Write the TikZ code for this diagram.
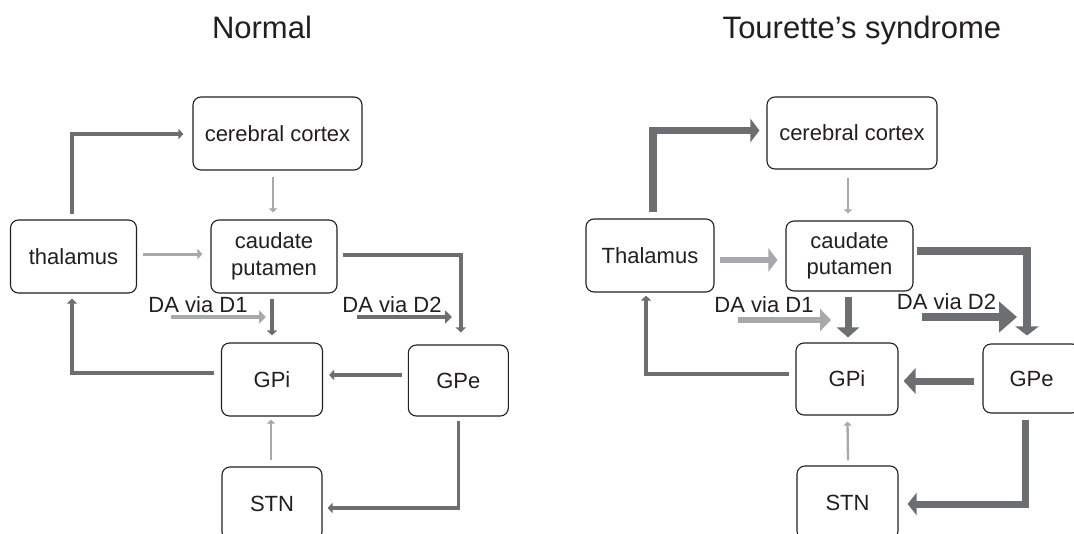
\documentclass[tikz,border=0pt]{standalone}
\usepackage{fontspec}
\setmainfont{Liberation Sans}
\usetikzlibrary{arrows.meta,calc}
\definecolor{dk}{HTML}{6D6E71}
\definecolor{lt}{HTML}{A7A9AC}
\definecolor{ink}{HTML}{231F20}
\tikzset{
  box/.style={draw=ink, line width=1.1pt, rounded corners=8pt, text=ink, align=center, inner sep=0pt,
    font=\fontsize{22}{26.4}\selectfont},
  lbl/.style={text=ink, inner sep=0pt, font=\fontsize{22}{26}\selectfont},
  ttl/.style={text=ink, inner sep=0pt, font=\fontsize{31}{36}\selectfont, anchor=base},
  conn/.style={line join=miter},
  dkL/.style={conn, draw=dk, line width=3.5pt, -{Triangle[length=5pt,width=10pt]}},
  ltL/.style={conn, draw=lt, line width=3pt, -{Triangle[length=5pt,width=10pt]}},
  daL/.style={conn, line width=4pt, -{Triangle[length=7pt,width=13pt]}},
  thinlt/.style={conn, draw=lt, line width=2.3pt, -{Triangle[length=4pt,width=8pt]}},
  thickdk/.style={conn, draw=dk, line width=7.5pt, -{Triangle[length=9pt,width=23pt]}},
  thicklt/.style={conn, draw=lt, line width=6.5pt, -{Triangle[length=9pt,width=23pt]}},
}
\begin{document}
\begin{tikzpicture}[x=1pt,y=-1pt]
\useasboundingbox[fill=white] (0,0) rectangle (1074,533);

% titles
\node[ttl] (tN) at (262,38) {Normal};
\node[ttl] (tT) at (862,38) {Tourette’s syndrome};

% ---------------- left panel ----------------
\node[box, minimum width=169pt, minimum height=73pt] (cortexL) at (277.5,133.5) {cerebral cortex};
\node[box, minimum width=126pt, minimum height=73pt] (thalL) at (73.5,256.5) {thalamus};
\node[box, minimum width=126pt, minimum height=73pt] (caudL) at (274,256.5) {caudate\\putamen};
\node[box, minimum width=101pt, minimum height=73pt] (GPiL) at (272,379.5) {GPi};
\node[box, minimum width=100pt, minimum height=71pt] (GPeL) at (458.3,380.5) {GPe};
\node[box, minimum width=100pt, minimum height=73pt] (STNL) at (272,503.5) {STN};

\node[lbl] (d1L) at (198,305) {DA via D1};
\node[lbl] (d2L) at (392,305) {DA via D2};
\coordinate (d1Ls) at (171,317);
\coordinate (d1Le) at (266,317);
\coordinate (d2Ls) at (357,317);
\coordinate (d2Le) at (452,317);

\draw[dkL] ($(thalL.north)+(-1.5,-5)$) |- ($(cortexL.west)+(-9,0.5)$);
\draw[thinlt] ($(cortexL.south -| caudL.north)+(-1,6)$) -- ($(caudL.north)+(-1,-7)$);
\draw[ltL] ($(thalL.east)+(6,-2.5)$) -- ($(caudL.west)+(-8,-2.5)$);
\draw[dkL] ($(caudL.east)+(5,-1.5)$) -| ($(GPeL.north)+(2.5,-12)$);
\draw[dkL] ($(caudL.south -| GPiL.north)+(0,5)$) -- ($(GPiL.north)+(0,-7)$);
\draw[daL, draw=lt] (d1Ls) -- (d1Le);
\draw[daL, draw=dk] (d2Ls) -- (d2Le);
\draw[dkL] ($(GPeL.west)+(-6,-5.5)$) -- ($(GPiL.east)+(6,-4.5)$);
\draw[dkL] ($(GPiL.west)+(-6.5,-6.5)$) -| ($(thalL.south)+(-1.5,5)$);
\draw[thinlt] ($(STNL.north)+(-1,-6)$) -- ($(GPiL.south)+(-1,3)$);
\draw[dkL] ($(GPeL.south)+(0,4)$) |- ($(STNL.east)+(5,4.5)$);

% ---------------- right panel ----------------
\node[box, minimum width=170pt, minimum height=72pt] (cortexR) at (852,133) {cerebral cortex};
\node[box, minimum width=128pt, minimum height=73pt] (thalR) at (650,255.5) {Thalamus};
\node[box, minimum width=127pt, minimum height=70pt] (caudR) at (849.5,256) {caudate\\putamen};
\node[box, minimum width=102pt, minimum height=72pt] (GPiR) at (847,379) {GPi};
\node[box, minimum width=97pt, minimum height=69pt] (GPeR) at (1031.5,378.5) {GPe};
\node[box, minimum width=101pt, minimum height=73pt] (STNR) at (847.5,502.5) {STN};

\node[lbl] (d1R) at (764,305) {DA via D1};
\node[lbl] (d2R) at (946.5,302) {DA via D2};
\coordinate (d1Rs) at (738,320);
\coordinate (d1Re) at (831,320);
\coordinate (d2Rs) at (922,317);
\coordinate (d2Re) at (1017,317);

\draw[thickdk] ($(thalR.north)+(3,-6)$) |- ($(cortexR.west)+(-7,-2.5)$);
\draw[thinlt] ($(cortexR.south -| caudR.north)+(-1.5,8)$) -- ($(caudR.north)+(-1.5,-7)$);
\draw[thicklt] ($(thalR.east)+(5,4.5)$) -- ($(caudR.west)+(-8,4)$);
\draw[thickdk] ($(caudR.east)+(3,-5)$) -| ($(GPeR.north)+(-4.5,-8)$);
\draw[thickdk, line width=7pt, -{Triangle[length=10pt,width=22pt]}] ($(caudR.south)+(-1.5,5)$) -- ($(GPiR.north)+(1,-5)$);
\draw[thicklt, -{Triangle[length=11pt,width=22pt]}] (d1Rs) -- (d1Re);
\draw[thickdk, line width=8pt, -{Triangle[length=18pt,width=30pt]}] (d2Rs) -- (d2Re);
\draw[thickdk, line width=7pt, -{Triangle[length=12pt,width=25pt]}] ($(GPeR.west)+(-8,2.5)$) -- ($(GPiR.east)+(5,2)$);
\draw[dkL] ($(GPiR.west)+(-6,-5)$) -| ($(thalR.south)+(-4,3)$);
\draw[thinlt] ($(STNR.north)+(0.5,-5)$) -- ($(GPiR.south)+(0.5,6)$);
\draw[thickdk, line width=7pt, -{Triangle[length=9pt,width=22pt]}] ($(GPeR.south)+(-6,6)$) |- ($(STNR.east)+(9,1.5)$);
\end{tikzpicture}
\end{document}
